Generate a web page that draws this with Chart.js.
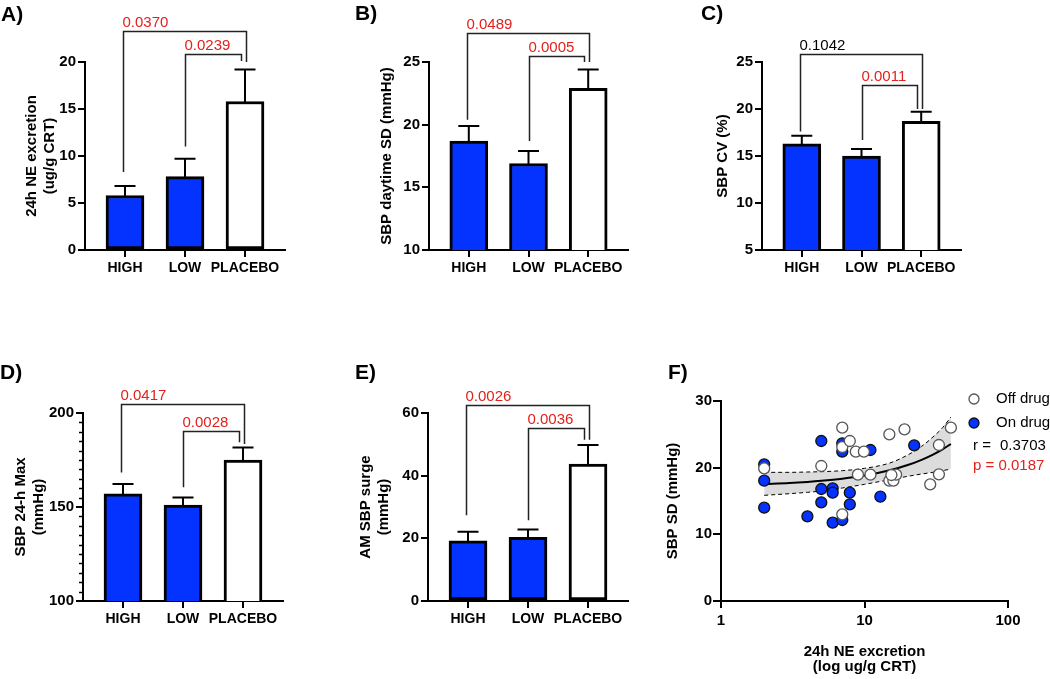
<!DOCTYPE html>
<html lang="en">
<head>
<meta charset="UTF-8">
<title>Sympathetic activity and blood pressure variability</title>
<script src="https://cdn.jsdelivr.net/npm/chart.js"></script>
<style>
  body { margin: 0; background: #fff; font-family: "Liberation Sans", Arial, sans-serif; }
  #fig { position: relative; width: 1050px; height: 679px; overflow: hidden; }
  #fig canvas { position: absolute; }
  .lbl { position: absolute; font-weight: bold; font-size: 21px; line-height: 21px; color: #000; }
</style>
</head>
<body>
<div id="fig">
  <canvas id="chartA" width="300" height="300" style="left:0px;top:0px"></canvas>
  <canvas id="chartB" width="300" height="300" style="left:340px;top:0px"></canvas>
  <canvas id="chartC" width="300" height="300" style="left:690px;top:0px"></canvas>
  <canvas id="chartD" width="300" height="324" style="left:0px;top:355px"></canvas>
  <canvas id="chartE" width="300" height="324" style="left:340px;top:355px"></canvas>
  <canvas id="chartF" width="395" height="324" style="left:655px;top:355px"></canvas>
  <div class="lbl" style="left:1px;top:3px">A)</div>
  <div class="lbl" style="left:355px;top:2px">B)</div>
  <div class="lbl" style="left:701px;top:2px">C)</div>
  <div class="lbl" style="left:0px;top:361px">D)</div>
  <div class="lbl" style="left:355px;top:361px">E)</div>
  <div class="lbl" style="left:668px;top:361px">F)</div>
</div>

<script>
// groups shown in panels A-E
const groups = ['HIGH', 'LOW', 'PLACEBO'];
const groupPos = [1, 2, 3];
const barColors = ['#0433ff', '#0433ff', '#ffffff'];

// A) 24h NE excretion
const neMean = [5.8, 7.8, 15.8];
const neSem = [1.0, 1.9, 3.4];
const neTicks = [0, 5, 10, 15, 20];
const neCompare = [
  { from: 0, to: 2, top: 23.3, leftEnd: 8.3, rightEnd: 20.0, p: 0.0370 },
  { from: 1, to: 2, top: 20.9, leftEnd: 11.0, rightEnd: 20.1, p: 0.0239 }
];

// B) SBP daytime SD
const sdMean = [18.7, 16.9, 22.9];
const sdSem = [1.2, 1.0, 1.5];
const sdTicks = [10, 15, 20, 25];
const sdCompare = [
  { from: 0, to: 2, top: 27.3, leftEnd: 20.4, rightEnd: 25.0, p: 0.0489 },
  { from: 1, to: 2, top: 25.5, leftEnd: 18.7, rightEnd: 25.0, p: 0.0005 }
];

// C) SBP CV
const cvMean = [16.3, 15.0, 18.7];
const cvSem = [0.85, 0.75, 1.0];
const cvTicks = [5, 10, 15, 20, 25];
const cvCompare = [
  { from: 0, to: 2, top: 25.9, leftEnd: 17.6, rightEnd: 20.0, p: 0.1042 },
  { from: 1, to: 2, top: 22.6, leftEnd: 16.7, rightEnd: 20.0, p: 0.0011 }
];

// D) SBP 24-h max
const maxMean = [157, 151, 175];
const maxSem = [5.3, 4.1, 6.6];
const maxTicks = [100, 150, 200];
const maxMinorTicks = [105, 110, 115, 120, 125, 130, 135, 140, 145, 155, 160, 165, 170, 175, 180, 185, 190, 195];
const maxCompare = [
  { from: 0, to: 2, top: 205.0, leftEnd: 168.3, rightEnd: 183.5, p: 0.0417 },
  { from: 1, to: 2, top: 190.2, leftEnd: 160.5, rightEnd: 184.5, p: 0.0028 }
];

// E) AM SBP surge
const surgeMean = [19.2, 20.3, 43.7];
const surgeSem = [2.9, 2.5, 6.1];
const surgeTicks = [0, 20, 40, 60];
const surgeCompare = [
  { from: 0, to: 2, top: 62.5, leftEnd: 27.4, rightEnd: 51.5, p: 0.0026 },
  { from: 1, to: 2, top: 55.2, leftEnd: 25.8, rightEnd: 51.5, p: 0.0036 }
];

// F) SBP SD vs 24h NE excretion
const offDrugX = [2.0, 7.0, 7.0, 7.9, 8.7, 9.9, 5.0, 9.0, 11.0, 7.0, 14.9, 19.0, 40.0, 33.0, 14.9, 15.9, 16.6, 15.4, 28.7, 33.0];
const offDrugY = [19.9, 26.0, 23.1, 24.0, 22.4, 22.4, 20.25, 18.95, 18.95, 13.0, 25.0, 25.75, 26.0, 23.4, 18.05, 18.05, 18.95, 18.9, 17.5, 19.0];
const onDrugX = [2.0, 2.0, 2.0, 5.0, 5.0, 5.0, 4.0, 6.0, 6.0, 6.0, 7.0, 7.0, 7.0, 7.9, 7.9, 11.0, 12.9, 22.2];
const onDrugY = [20.5, 18.05, 14.0, 24.0, 16.8, 14.8, 12.7, 16.9, 16.25, 11.75, 23.65, 22.4, 12.15, 16.25, 14.5, 22.65, 15.65, 23.35];
const fitX = [2, 3, 4, 5, 7, 10, 15, 20, 25, 30, 35, 40];
const fitY = [17.55, 17.7, 17.86, 18.02, 18.34, 18.81, 19.6, 20.39, 21.18, 21.97, 22.76, 23.55];
const fitUpper = [19.3, 19.3, 19.35, 19.4, 19.55, 19.9, 20.7, 21.9, 23.2, 24.6, 26.0, 27.6];
const fitLower = [15.85, 16.1, 16.3, 16.5, 16.95, 17.5, 18.2, 18.7, 19.05, 19.3, 19.55, 19.8];
const corrXTicks = [1, 10, 100];
const corrYTicks = [0, 10, 20, 30];
const rValue = 0.3703;
const pValue = 0.0187;

const FONT = '"Liberation Sans", Arial, sans-serif';
const RED = '#e3201b';
Chart.defaults.font.family = FONT;
Chart.defaults.color = '#000';

function pColor(p) { return p < 0.05 ? RED : '#000'; }

// error bars (mean + SEM, upper only)
function errorBarPlugin(mean, sem) {
  return {
    id: 'errorBars',
    afterDatasetsDraw(chart) {
      const { ctx, scales: { x, y } } = chart;
      ctx.save();
      ctx.strokeStyle = '#000';
      ctx.lineWidth = 2;
      mean.forEach((m, i) => {
        const px = x.getPixelForValue(groupPos[i]);
        const y0 = y.getPixelForValue(m) + 2;
        const y1 = y.getPixelForValue(m + sem[i]);
        ctx.beginPath();
        ctx.moveTo(px, y0);
        ctx.lineTo(px, y1);
        ctx.moveTo(px - 10.5, y1);
        ctx.lineTo(px + 10.5, y1);
        ctx.stroke();
      });
      ctx.restore();
    }
  };
}

// p value brackets above the bars
function bracketPlugin(compare) {
  const legShift = [[-2, 1], [0, -4]];
  return {
    id: 'brackets',
    afterDraw(chart) {
      const { ctx, scales: { x, y } } = chart;
      ctx.save();
      ctx.strokeStyle = '#222';
      ctx.lineWidth = 1.5;
      ctx.font = '15px ' + FONT;
      ctx.textAlign = 'left';
      ctx.textBaseline = 'alphabetic';
      compare.forEach((b, k) => {
        const xl = Math.round(x.getPixelForValue(groupPos[b.from]) + legShift[k][0]) + 0.5;
        const xr = Math.round(x.getPixelForValue(groupPos[b.to]) + legShift[k][1]) + 0.5;
        const yt = Math.round(y.getPixelForValue(b.top)) + 0.5;
        ctx.beginPath();
        ctx.moveTo(xl, y.getPixelForValue(b.leftEnd));
        ctx.lineTo(xl, yt);
        ctx.lineTo(xr, yt);
        ctx.lineTo(xr, y.getPixelForValue(b.rightEnd));
        ctx.stroke();
        ctx.fillStyle = pColor(b.p);
        ctx.fillText(b.p.toFixed(4), xl - 1, yt - 5);
      });
      ctx.restore();
    }
  };
}

function minorTickPlugin(values) {
  return {
    id: 'minorTicks',
    afterDraw(chart) {
      const { ctx, scales: { y } } = chart;
      const left = chart.chartArea.left;
      ctx.save();
      ctx.strokeStyle = '#000';
      ctx.lineWidth = 1.5;
      values.forEach(v => {
        const py = Math.round(y.getPixelForValue(v)) + 0.5;
        ctx.beginPath();
        ctx.moveTo(left - 4, py);
        ctx.lineTo(left, py);
        ctx.stroke();
      });
      ctx.restore();
    }
  };
}

// box: canvas rect (cl, ct, cw, ch) and axis rect (left, right, top, bottom), page pixels
function makeBars(id, box, yTitle, titlePad, mean, sem, yTicks, compare, minor) {
  const plugins = [errorBarPlugin(mean, sem), bracketPlugin(compare)];
  if (minor) plugins.push(minorTickPlugin(minor));
  return new Chart(document.getElementById(id), {
    type: 'bar',
    data: {
      datasets: [{
        data: groupPos.map((g, i) => ({ x: g, y: mean[i] })),
        backgroundColor: barColors,
        borderColor: '#000',
        borderWidth: 3,
        borderSkipped: false,
        barThickness: 38
      }]
    },
    options: {
      responsive: false,
      animation: false,
      events: [],
      layout: { padding: { left: 0, top: box.top - box.ct, right: box.cl + box.cw - box.right, bottom: 0 } },
      plugins: { legend: { display: false }, tooltip: { enabled: false } },
      scales: {
        x: {
          type: 'linear',
          min: 1 - 40 / 60,
          max: 3 + 40 / 60,
          offset: false,
          afterBuildTicks: s => { s.ticks = groupPos.map(v => ({ value: v })); },
          afterFit: s => { s.height = box.ct + box.ch - box.bottom; },
          ticks: {
            callback: (v, i) => groups[i],
            font: { size: 14, weight: 'bold' },
            color: '#000',
            padding: 3,
            autoSkip: false,
            maxRotation: 0
          },
          grid: { offset: false, drawOnChartArea: false, tickLength: 7, lineWidth: 2, color: '#000' },
          border: { color: '#000', width: 2 }
        },
        y: {
          min: yTicks[0],
          max: yTicks[yTicks.length - 1],
          afterBuildTicks: s => { s.ticks = yTicks.map(v => ({ value: v })); },
          afterFit: s => { s.width = box.left - box.cl; },
          ticks: { font: { size: 15, weight: 'bold' }, color: '#000', padding: 2 },
          grid: { drawOnChartArea: false, tickLength: 7, lineWidth: 2, color: '#000' },
          border: { color: '#000', width: 2 },
          title: {
            display: true,
            text: yTitle,
            color: '#000',
            font: { size: 15, weight: 'bold', lineHeight: 1.25 },
            padding: { top: titlePad, bottom: 0 }
          }
        }
      }
    },
    plugins: plugins
  });
}

makeBars('chartA', { cl: 0, ct: 0, cw: 300, ch: 300, left: 85, right: 285, top: 62, bottom: 250 },
  ['24h NE excretion', '(ug/g CRT)'], 22, neMean, neSem, neTicks, neCompare);
makeBars('chartB', { cl: 340, ct: 0, cw: 300, ch: 300, left: 429, right: 628, top: 62, bottom: 250 },
  'SBP daytime SD (mmHg)', 37, sdMean, sdSem, sdTicks, sdCompare);
makeBars('chartC', { cl: 690, ct: 0, cw: 300, ch: 300, left: 762, right: 961, top: 62, bottom: 250 },
  'SBP CV (%)', 23, cvMean, cvSem, cvTicks, cvCompare);
makeBars('chartD', { cl: 0, ct: 355, cw: 300, ch: 324, left: 83, right: 283, top: 413, bottom: 601 },
  ['SBP 24-h Max', '(mmHg)'], 11, maxMean, maxSem, maxTicks, maxCompare, maxMinorTicks);
makeBars('chartE', { cl: 340, ct: 355, cw: 300, ch: 324, left: 428, right: 628, top: 413, bottom: 601 },
  ['AM SBP surge', '(mmHg)'], 16, surgeMean, surgeSem, surgeTicks, surgeCompare);

// F) correlation panel
const fBox = { cl: 655, ct: 355, cw: 395, ch: 324, left: 721, right: 1008, top: 401, bottom: 601 };

const corrLegend = {
  id: 'corrLegend',
  afterDraw(chart) {
    const { ctx, chartArea } = chart;
    const cx = chartArea.right - 34;
    const tx = chartArea.right - 12;
    ctx.save();
    ctx.font = '15px ' + FONT;
    ctx.textBaseline = 'middle';
    ctx.textAlign = 'left';
    const rows = [chart.data.datasets[0], chart.data.datasets[1]];
    rows.forEach((ds, i) => {
      const cy = chartArea.top - 2 + i * 24;
      ctx.beginPath();
      ctx.arc(cx, cy, 5, 0, Math.PI * 2);
      ctx.fillStyle = ds.backgroundColor;
      ctx.fill();
      ctx.lineWidth = 1.3;
      ctx.strokeStyle = ds.borderColor;
      ctx.stroke();
      ctx.fillStyle = '#000';
      ctx.fillText(ds.label, tx, cy);
    });
    ctx.fillStyle = '#000';
    ctx.fillText('r =', cx - 1, chartArea.top + 45);
    ctx.fillText(rValue.toFixed(4), cx + 26, chartArea.top + 45);
    ctx.fillStyle = pColor(pValue);
    ctx.fillText('p = ' + pValue.toFixed(4), cx - 1, chartArea.top + 65);
    ctx.restore();
  }
};

new Chart(document.getElementById('chartF'), {
  type: 'scatter',
  data: {
    datasets: [
      {
        label: 'Off drug',
        data: offDrugX.map((v, i) => ({ x: v, y: offDrugY[i] })),
        backgroundColor: '#ffffff',
        borderColor: '#555555',
        borderWidth: 1.3,
        pointRadius: 5.5,
        order: 0
      },
      {
        label: 'On drug',
        data: onDrugX.map((v, i) => ({ x: v, y: onDrugY[i] })),
        backgroundColor: '#0433ff',
        borderColor: '#111111',
        borderWidth: 1.3,
        pointRadius: 5.5,
        order: 1
      },
      {
        label: 'fit',
        data: fitX.map((v, i) => ({ x: v, y: fitY[i] })),
        showLine: true,
        borderColor: '#000',
        borderWidth: 2,
        pointRadius: 0,
        cubicInterpolationMode: 'monotone',
        order: 2
      },
      {
        label: 'upper 95% CI',
        data: fitX.map((v, i) => ({ x: v, y: fitUpper[i] })),
        showLine: true,
        borderColor: '#000',
        borderWidth: 1,
        borderDash: [4, 3],
        pointRadius: 0,
        cubicInterpolationMode: 'monotone',
        order: 3
      },
      {
        label: 'lower 95% CI',
        data: fitX.map((v, i) => ({ x: v, y: fitLower[i] })),
        showLine: true,
        borderColor: '#000',
        borderWidth: 1,
        borderDash: [4, 3],
        pointRadius: 0,
        cubicInterpolationMode: 'monotone',
        fill: '-1',
        backgroundColor: '#dcdcdc',
        order: 3
      }
    ]
  },
  options: {
    responsive: false,
    animation: false,
    events: [],
    layout: { padding: { left: 0, top: fBox.top - fBox.ct, right: fBox.cl + fBox.cw - fBox.right, bottom: 0 } },
    plugins: { legend: { display: false }, tooltip: { enabled: false } },
    scales: {
      x: {
        type: 'logarithmic',
        min: 1,
        max: 100,
        afterBuildTicks: s => { s.ticks = corrXTicks.map(v => ({ value: v })); },
        afterFit: s => { s.height = fBox.ct + fBox.ch - fBox.bottom; },
        ticks: { callback: (v, i) => String(corrXTicks[i]), font: { size: 15, weight: 'bold' }, color: '#000', padding: 4, maxRotation: 0 },
        grid: { drawOnChartArea: false, tickLength: 7, lineWidth: 2, color: '#000' },
        border: { color: '#000', width: 2 },
        title: {
          display: true,
          text: ['24h NE excretion', '(log ug/g CRT)'],
          color: '#000',
          font: { size: 15, weight: 'bold', lineHeight: 1.05 },
          padding: { top: 0, bottom: 4 }
        }
      },
      y: {
        min: 0,
        max: 30,
        afterBuildTicks: s => { s.ticks = corrYTicks.map(v => ({ value: v })); },
        afterFit: s => { s.width = fBox.left - fBox.cl; },
        ticks: { font: { size: 15, weight: 'bold' }, color: '#000', padding: 1 },
        grid: { drawOnChartArea: false, tickLength: 8, lineWidth: 2, color: '#000' },
        border: { color: '#000', width: 2 },
        title: {
          display: true,
          text: 'SBP SD (mmHg)',
          color: '#000',
          font: { size: 15, weight: 'bold', lineHeight: 1.2 },
          padding: { top: 9, bottom: 0 }
        }
      }
    }
  },
  plugins: [corrLegend]
});
</script>
</body>
</html>
